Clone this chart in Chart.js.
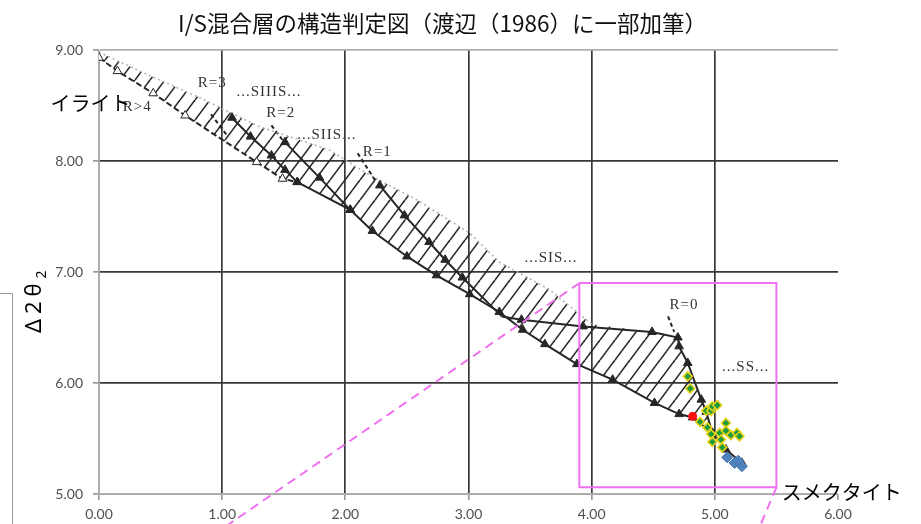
<!DOCTYPE html>
<html lang="ja">
  <head>
    <meta charset="UTF-8" />
    <title>I/S混合層の構造判定図</title>
    <style>
      * {
        border: none;
        padding: 0px;
        margin: 0px;
        box-sizing: border-box;
      }
      body { background: #fff; }
      #grafico {
        width: 921px;
        height: 524px;
      }
    </style>
  </head>
  <body>
    <div id="grafico">
      <canvas id="grafico1"></canvas>
    </div>

    <script src="https://cdn.jsdelivr.net/npm/chart.js"></script>
    <script>
      // axes
      const xTicks = [0, 1, 2, 3, 4, 5, 6]
      const yTicks = [5, 6, 7, 8, 9]

      // Watanabe (1986) curves
      const lowerEdge = [
        {x: 0.00, y: 8.93}, {x: 0.15, y: 8.81}, {x: 0.44, y: 8.61}, {x: 0.70, y: 8.41},
        {x: 1.28, y: 7.99}, {x: 1.49, y: 7.84}, {x: 1.61, y: 7.81}, {x: 2.04, y: 7.56},
        {x: 2.22, y: 7.37}, {x: 2.50, y: 7.14}, {x: 2.74, y: 6.97}, {x: 3.01, y: 6.80},
        {x: 3.25, y: 6.64}, {x: 3.44, y: 6.48}, {x: 3.62, y: 6.35}, {x: 3.88, y: 6.17},
        {x: 4.17, y: 6.03}, {x: 4.51, y: 5.82}, {x: 4.71, y: 5.72}, {x: 4.82, y: 5.69},
        {x: 4.98, y: 5.55}, {x: 5.09, y: 5.40}, {x: 5.22, y: 5.28}
      ]
      const upperEdge = [
        {x: 0.00, y: 8.98}, {x: 0.41, y: 8.77}, {x: 0.82, y: 8.57}, {x: 1.30, y: 8.31},
        {x: 1.87, y: 8.10}, {x: 2.17, y: 7.89}, {x: 2.58, y: 7.65}, {x: 3.01, y: 7.35},
        {x: 3.25, y: 7.09}, {x: 3.66, y: 6.84}, {x: 4.00, y: 6.53}
      ]
      const r3Curve = [
        {x: 1.08, y: 8.39}, {x: 1.23, y: 8.22}, {x: 1.40, y: 8.05}, {x: 1.51, y: 7.92}, {x: 1.61, y: 7.81}
      ]
      const r2Curve = [
        {x: 1.51, y: 8.17}, {x: 1.79, y: 7.85}, {x: 2.04, y: 7.56}
      ]
      const r1Curve = [
        {x: 2.28, y: 7.78}, {x: 2.48, y: 7.51}, {x: 2.68, y: 7.27}, {x: 2.81, y: 7.11},
        {x: 2.95, y: 6.95}, {x: 3.27, y: 6.60}
      ]
      const r0Curve = [
        {x: 3.27, y: 6.60}, {x: 3.43, y: 6.57}, {x: 3.93, y: 6.51}, {x: 4.49, y: 6.46},
        {x: 4.70, y: 6.41}, {x: 4.71, y: 6.33}, {x: 4.78, y: 6.18}, {x: 4.89, y: 5.85},
        {x: 4.93, y: 5.74}, {x: 4.98, y: 5.55}
      ]
      const leaders = [
        [{x: 0.91, y: 8.42}, {x: 1.04, y: 8.23}],
        [{x: 1.40, y: 8.32}, {x: 1.49, y: 8.19}],
        [{x: 2.10, y: 8.07}, {x: 2.24, y: 7.83}],
        [{x: 4.62, y: 6.60}, {x: 4.67, y: 6.46}]
      ]

      // measured samples
      const greenSamples = [
        {x: 4.78, y: 6.06}, {x: 4.80, y: 5.95}, {x: 4.93, y: 5.75}, {x: 4.97, y: 5.75},
        {x: 4.98, y: 5.79}, {x: 5.02, y: 5.80}, {x: 4.88, y: 5.65}, {x: 4.94, y: 5.60},
        {x: 4.97, y: 5.54}, {x: 4.98, y: 5.47}, {x: 5.04, y: 5.55}, {x: 5.05, y: 5.49},
        {x: 5.09, y: 5.64}, {x: 5.09, y: 5.57}, {x: 5.13, y: 5.53}, {x: 5.18, y: 5.55},
        {x: 5.20, y: 5.52}, {x: 5.06, y: 5.42}
      ]
      const redSamples = [{x: 4.82, y: 5.70}]
      const blueSamples = [
        {x: 5.10, y: 5.33}, {x: 5.16, y: 5.28}, {x: 5.22, y: 5.25}, {x: 5.19, y: 5.30}
      ]

      // enlarged region frame
      const zoomBox = [
        {x: 3.90, y: 6.90}, {x: 5.50, y: 6.90}, {x: 5.50, y: 5.06}, {x: 3.90, y: 5.06}, {x: 3.90, y: 6.90}
      ]
      const zoomLeft = [{x: 3.90, y: 6.90}, {x: 0.94, y: 4.64}]
      const zoomRight = [{x: 5.50, y: 5.06}, {x: 5.34, y: 4.64}]

      // text on the plot
      const curveLabels = ['R>4', 'R=3', '...SIIIS...', 'R=2', '...SIIS...', 'R=1', '...SIS...', 'R=0', '...SS...']
      const curveLabelAt = [
        {x: 0.31, y: 8.49}, {x: 0.92, y: 8.70}, {x: 1.38, y: 8.62}, {x: 1.475, y: 8.43},
        {x: 1.85, y: 8.23}, {x: 2.26, y: 8.08}, {x: 3.67, y: 7.13}, {x: 4.75, y: 6.70}, {x: 5.25, y: 6.14}
      ]
      const mineralNames = ['イライト', 'スメクタイト']
      const mineralAt = [{x: -0.07, y: 8.52}, {x: 6.03, y: 5.01}]

      const hatchTop = upperEdge.concat(r0Curve.filter(p => p.x > upperEdge[upperEdge.length - 1].x))
      const hatchBottom = lowerEdge.filter(p => p.x <= 4.98)

      const ink = '#262626'
      const pink = '#f070f0'

      const hatchPlugin = {
        id: 'hatch',
        beforeDatasetsDraw(chart) {
          const {ctx, scales: {x, y}} = chart
          const w = 15, h = 20
          const tile = document.createElement('canvas')
          tile.width = w
          tile.height = h
          const g = tile.getContext('2d')
          g.strokeStyle = '#2a2a2a'
          g.lineWidth = 1.6
          ;[-w, 0, w].forEach(o => {
            g.beginPath()
            g.moveTo(o, h)
            g.lineTo(o + w, 0)
            g.stroke()
          })
          const poly = hatchTop.concat(hatchBottom.slice().reverse())
          ctx.save()
          ctx.beginPath()
          poly.forEach((p, i) => {
            const px = x.getPixelForValue(p.x)
            const py = y.getPixelForValue(p.y)
            if (i) ctx.lineTo(px, py)
            else ctx.moveTo(px, py)
          })
          ctx.closePath()
          ctx.fillStyle = ctx.createPattern(tile, 'repeat')
          ctx.fill()
          ctx.restore()
        }
      }

      const textPlugin = {
        id: 'texts',
        afterDatasetsDraw(chart) {
          const {ctx, scales: {x, y}} = chart
          ctx.save()
          ctx.textAlign = 'center'
          ctx.textBaseline = 'middle'

          ctx.fillStyle = '#333'
          ctx.font = "15px 'Liberation Serif'"
          ctx.letterSpacing = '1px'
          curveLabels.forEach((t, i) => {
            ctx.fillText(t, x.getPixelForValue(curveLabelAt[i].x), y.getPixelForValue(curveLabelAt[i].y))
          })

          ctx.letterSpacing = '0px'
          ctx.fillStyle = '#000'
          ctx.font = "20px 'Noto Sans CJK JP'"
          mineralNames.forEach((t, i) => {
            ctx.fillText(t, x.getPixelForValue(mineralAt[i].x), y.getPixelForValue(mineralAt[i].y))
          })

          // y axis title  Δ2θ2
          ctx.translate(33, y.getPixelForValue(6.75))
          ctx.rotate(-Math.PI / 2)
          ctx.textAlign = 'left'
          ctx.textBaseline = 'alphabetic'
          ctx.font = "22px 'Noto Sans'"
          ctx.letterSpacing = '5px'
          const main = 'Δ2θ'
          const mw = ctx.measureText(main).width
          const left = -(mw + 12) / 2
          ctx.fillText(main, left, 8)
          ctx.font = "14px 'Noto Sans'"
          ctx.letterSpacing = '0px'
          ctx.fillText('2', left + mw, 13)
          ctx.restore()

          // edge of a neighbouring frame on the left
          ctx.save()
          ctx.strokeStyle = '#9a9a9a'
          ctx.lineWidth = 1
          ctx.beginPath()
          ctx.moveTo(0, 293.5)
          ctx.lineTo(12.5, 293.5)
          ctx.lineTo(12.5, chart.height)
          ctx.stroke()
          ctx.restore()
        }
      }

      const curve = (data, extra) => Object.assign({
        data: data,
        showLine: true,
        borderColor: ink,
        borderWidth: 2,
        pointStyle: 'triangle',
        pointRadius: 5,
        pointBackgroundColor: ink,
        pointBorderColor: ink,
        pointBorderWidth: 1
      }, extra || {})

      const datasets = [
        {
          data: greenSamples,
          pointStyle: 'rectRot',
          pointRadius: 4.5,
          pointBackgroundColor: '#1d9a3c',
          pointBorderColor: '#e6d21a',
          pointBorderWidth: 1.6
        },
        {
          data: redSamples,
          pointStyle: 'circle',
          pointRadius: 4,
          pointBackgroundColor: '#ff1010',
          pointBorderColor: '#ff1010'
        },
        {
          data: blueSamples,
          pointStyle: 'rectRot',
          pointRadius: 5.5,
          pointBackgroundColor: '#4f81bd',
          pointBorderColor: '#4a78b2'
        },
        {data: zoomBox, showLine: true, borderColor: pink, borderWidth: 2, pointRadius: 0},
        {data: zoomLeft, showLine: true, borderColor: pink, borderWidth: 2, borderDash: [9, 6], pointRadius: 0, clip: false},
        {data: zoomRight, showLine: true, borderColor: pink, borderWidth: 2, borderDash: [9, 6], pointRadius: 0, clip: false},
        curve(r0Curve, {pointRadius: c => c.dataIndex === 0 ? 0 : 5}),
        curve(r1Curve, {pointRadius: c => c.dataIndex === r1Curve.length - 1 ? 0 : 5}),
        curve(r2Curve),
        curve(r3Curve),
        curve(lowerEdge, {
          pointBackgroundColor: c => c.dataIndex < 6 ? '#fff' : ink,
          segment: {
            borderDash: c => c.p1.parsed.x <= 1.61 ? [6, 3] : undefined
          }
        }),
        {data: upperEdge, showLine: true, borderColor: '#b4b4b4', borderWidth: 1.6, borderDash: [2, 3], pointRadius: 0}
      ].concat(leaders.map(l => ({
        data: l, showLine: true, borderColor: ink, borderWidth: 2, borderDash: [4, 3], pointRadius: 0
      })))

      const gridTone = (v, light) => light.includes(v) ? '#b0b0b0' : '#383838'

      const grafico1 = new Chart(document.getElementById('grafico1'), {
        type: 'scatter',
        data: {datasets: datasets},
        plugins: [hatchPlugin, textPlugin],
        options: {
          responsive: true,
          maintainAspectRatio: false,
          animation: false,
          layout: {padding: {left: 0, right: 36, top: 0, bottom: 0}},
          plugins: {
            legend: {display: false},
            tooltip: {enabled: false},
            title: {
              display: true,
              text: 'I/S混合層の構造判定図（渡辺（1986）に一部加筆）',
              color: '#111',
              font: {family: "'Noto Sans CJK JP'", size: 22.5, weight: 'normal'},
              padding: {top: 10, bottom: 13}
            }
          },
          scales: {
            x: {
              type: 'linear',
              min: xTicks[0],
              max: xTicks[xTicks.length - 1],
              afterBuildTicks: s => { s.ticks = xTicks.map(v => ({value: v})) },
              afterFit: s => { s.height = 30 },
              ticks: {
                callback: v => Number(v).toFixed(2),
                color: '#505050',
                font: {family: 'Lato', size: 14},
                padding: 6,
                maxRotation: 0
              },
              grid: {
                color: c => c.tick && c.tick.value === 6 ? 'rgba(0,0,0,0)' : gridTone(c.tick ? c.tick.value : -1, [0]),
                lineWidth: 1.7,
                tickLength: 6,
                tickColor: '#9a9a9a'
              },
              border: {color: '#aaa', width: 1}
            },
            y: {
              type: 'linear',
              min: yTicks[0],
              max: yTicks[yTicks.length - 1],
              afterBuildTicks: s => { s.ticks = yTicks.map(v => ({value: v})) },
              afterFit: s => { s.width = 99 },
              ticks: {
                callback: v => Number(v).toFixed(2),
                color: '#505050',
                font: {family: 'Lato', size: 14},
                padding: 10
              },
              grid: {
                color: c => gridTone(c.tick ? c.tick.value : -1, [5, 9]),
                lineWidth: 1.7,
                tickLength: 6,
                tickColor: '#9a9a9a'
              },
              border: {color: '#aaa', width: 1}
            },
            y2: {
              type: 'linear',
              position: 'right',
              afterFit: s => { s.width = 47 },
              ticks: {display: false},
              grid: {display: false},
              border: {display: false}
            }
          }
        }
      })
    </script>
  </body>
</html>
